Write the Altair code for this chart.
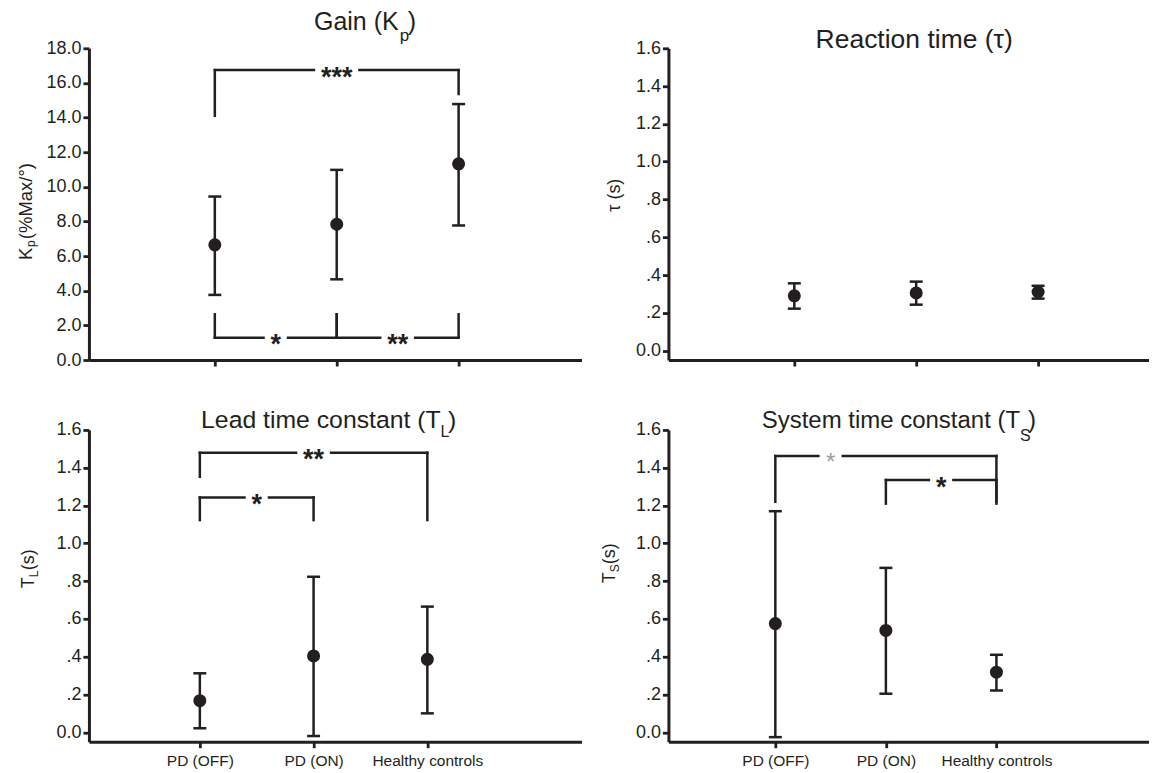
import altair as alt
import pandas as pd

FONT = "Liberation Sans"
INK = "#231f20"
FADED = "#9d9d9d"

groups = ["PD (OFF)", "PD (ON)", "Healthy controls"]
group_pos = [1, 2, 3]

# Gain (Kp), %Max/deg
kp_mean = [6.65, 7.84, 11.33]
kp_lower = [3.76, 4.66, 7.77]
kp_upper = [9.44, 10.98, 14.78]
# Reaction time (tau), s
tau_mean = [0.29, 0.305, 0.31]
tau_lower = [0.222, 0.243, 0.275]
tau_upper = [0.356, 0.365, 0.343]
# Lead time constant (TL), s
tl_mean = [0.167, 0.404, 0.386]
tl_lower = [0.021, -0.02, 0.10]
tl_upper = [0.312, 0.823, 0.665]
# System time constant (TS), s
ts_mean = [0.575, 0.539, 0.318]
ts_lower = [-0.026, 0.204, 0.221]
ts_upper = [1.17, 0.87, 0.41]

# significance brackets
kp_br_from = [1, 1, 2]
kp_br_to = [3, 2, 3]
kp_br_level = [16.74, 1.29, 1.29]
kp_br_from_end = [14.1, 2.64, 2.64]
kp_br_to_end = [15.36, 2.64, 2.64]
kp_br_label = ["***", "*", "**"]
kp_br_label_at = [2.0, 1.5, 2.5]
kp_br_faded = [False, False, False]

tau_br_from, tau_br_to, tau_br_level = [], [], []
tau_br_from_end, tau_br_to_end = [], []
tau_br_label, tau_br_label_at, tau_br_faded = [], [], []

tl_br_from = [1, 1]
tl_br_to = [3, 2]
tl_br_level = [1.479, 1.243]
tl_br_from_end = [1.352, 1.123]
tl_br_to_end = [1.123, 1.123]
tl_br_label = ["**", "*"]
tl_br_label_at = [2.0, 1.5]
tl_br_faded = [False, False]

ts_br_from = [1, 2]
ts_br_to = [3, 3]
ts_br_level = [1.462, 1.335]
ts_br_from_end = [1.22, 1.21]
ts_br_to_end = [1.22, 1.21]
ts_br_label = ["*", "*"]
ts_br_label_at = [1.5, 2.5]
ts_br_faded = [True, False]

kp_ticks = [0, 2, 4, 6, 8, 10, 12, 14, 16, 18]
s_ticks = [0, 0.2, 0.4, 0.6, 0.8, 1.0, 1.2, 1.4, 1.6]

X_LABEL_EXPR = " : ".join(
    f"datum.value == {p} ? '{g}'" for p, g in zip(group_pos, groups)
) + " : ''"
KP_LABEL_EXPR = "format(datum.value, '.1f')"
S_LABEL_EXPR = ("datum.value == 0 ? '0.0' : (datum.value < 1 ? "
                "replace(format(datum.value, '.1f'), '0.', '.') : format(datum.value, '.1f'))")

PANEL_H = 312
STAR_SIZE = 27
STAR_PAD = 7

AXIS_STYLE = dict(
    title=None, grid=False, domainColor=INK, domainWidth=3,
    tickColor=INK, tickWidth=2.8, tickSize=6,
    labelColor=INK, labelFont=FONT, labelFlush=False, labelOverlap=False,
)


def make_panel(mean, lower, upper, ydom, yticks, ylabel_expr, xdom, width,
               br, title_parts, ytitle_anchor, ytitle_parts, show_labels):
    df = pd.DataFrame({"pos": group_pos, "group": groups, "mean": mean,
                       "lower": lower, "upper": upper})
    xscale = alt.Scale(domain=xdom, nice=False, zero=False)
    yscale = alt.Scale(domain=ydom, nice=False, zero=False)
    xaxis = alt.Axis(values=group_pos, labelExpr=X_LABEL_EXPR, labels=show_labels,
                     labelFontSize=15.5, labelPadding=6, **AXIS_STYLE)
    yaxis = alt.Axis(values=yticks, labelExpr=ylabel_expr, labelFontSize=18,
                     labelPadding=2, **AXIS_STYLE)

    def X(f):
        return alt.X(f"{f}:Q", scale=xscale, axis=xaxis)

    def Y(f):
        return alt.Y(f"{f}:Q", scale=yscale, axis=yaxis)

    base = alt.Chart(df)
    layers = [
        base.mark_rule(color=INK, strokeWidth=2.5).encode(x=X("pos"), y=Y("lower"), y2="upper"),
        base.mark_tick(color=INK, orient="horizontal", size=13, thickness=2.5, opacity=1).encode(x=X("pos"), y=Y("lower")),
        base.mark_tick(color=INK, orient="horizontal", size=13, thickness=2.5, opacity=1).encode(x=X("pos"), y=Y("upper")),
        base.mark_point(filled=True, shape="circle", size=170, color=INK, opacity=1).encode(x=X("pos"), y=Y("mean")),
    ]

    ppu = width / (xdom[1] - xdom[0])
    segs, labs = [], []
    for a, b, lvl, ea, eb, lab, at, faded in zip(*br):
        g = (len(lab) * 0.389 * STAR_SIZE / 2 + STAR_PAD) / ppu
        segs += [dict(x=a, x2=at - g, y=lvl, y2=lvl),
                 dict(x=at + g, x2=b, y=lvl, y2=lvl),
                 dict(x=a, x2=a, y=lvl, y2=ea),
                 dict(x=b, x2=b, y=lvl, y2=eb)]
        labs.append(dict(x=at, y=lvl, t=lab, faded=faded))
    if segs:
        sdf = pd.DataFrame(segs)
        layers.append(alt.Chart(sdf).mark_rule(color=INK, strokeWidth=2.5, strokeCap="square")
                      .encode(x=X("x"), x2="x2", y=Y("y"), y2="y2"))
        ldf = pd.DataFrame(labs)
        dark = ldf[~ldf["faded"]].drop(columns="faded")
        light = ldf[ldf["faded"]].drop(columns="faded")
        if len(dark):
            layers.append(alt.Chart(dark).mark_text(font=FONT, fontSize=STAR_SIZE, fontWeight="bold",
                                                    color=INK, baseline="alphabetic",
                                                    dy=0.58 * STAR_SIZE)
                          .encode(x=X("x"), y=Y("y"), text="t:N"))
        if len(light):
            layers.append(alt.Chart(light).mark_text(font=FONT, fontSize=STAR_SIZE - 3, fontWeight="normal",
                                                     color=FADED, baseline="alphabetic",
                                                     dy=0.58 * (STAR_SIZE - 3))
                          .encode(x=X("x"), y=Y("y"), text="t:N"))

    for text, px, py, align, fs in title_parts:
        layers.append(alt.Chart(pd.DataFrame({"t": [text]}))
                      .mark_text(font=FONT, fontSize=fs, color=INK, align=align, baseline="alphabetic")
                      .encode(text="t:N", x=alt.value(px), y=alt.value(py)))

    ax, ay, aalign = ytitle_anchor
    for text, fs, dx, dy in ytitle_parts:
        layers.append(alt.Chart(pd.DataFrame({"t": [text]}))
                      .mark_text(font=FONT, fontSize=fs, color=INK, align=aalign, baseline="alphabetic",
                                 angle=270, dx=dx, dy=dy)
                      .encode(text="t:N", x=alt.value(ax), y=alt.value(ay)))

    return alt.layer(*layers).properties(width=width, height=PANEL_H)


W_LEFT = 493
W_RIGHT = 481

p1 = make_panel(
    kp_mean, kp_lower, kp_upper, [0, 18], kp_ticks, KP_LABEL_EXPR,
    [-0.0328, -0.0328 + W_LEFT / 122.0], W_LEFT,
    (kp_br_from, kp_br_to, kp_br_level, kp_br_from_end, kp_br_to_end,
     kp_br_label, kp_br_label_at, kp_br_faded),
    [("Gain (K", 310, -18, "right", 25), ("p", 311, -7.5, "left", 17), (")", 319, -18, "left", 25)],
    (-57, 212, "left"),
    [("K", 18.5, 0, 0), ("p", 12, 13, 3.5), ("(%Max/°)", 18.5, 21, 0)],
    False,
)
p2 = make_panel(
    tau_mean, tau_lower, tau_upper, [-0.05, 1.6], s_ticks, S_LABEL_EXPR,
    [-0.0328, -0.0328 + W_RIGHT / 122.0], W_RIGHT,
    (tau_br_from, tau_br_to, tau_br_level, tau_br_from_end, tau_br_to_end,
     tau_br_label, tau_br_label_at, tau_br_faded),
    [("Reaction time (τ)", 246, 0, "center", 26.5)],
    (-48, 147, "center"),
    [("τ (s)", 18, 0, 0)],
    False,
)
p3 = make_panel(
    tl_mean, tl_lower, tl_upper, [-0.05, 1.6], s_ticks, S_LABEL_EXPR,
    [0.025, 0.025 + W_LEFT / 113.85], W_LEFT,
    (tl_br_from, tl_br_to, tl_br_level, tl_br_from_end, tl_br_to_end,
     tl_br_label, tl_br_label_at, tl_br_faded),
    [("Lead time constant (T", 352, -1.7, "right", 24.8), ("L", 352, 7.3, "left", 16),
     (")", 359.5, -1.7, "left", 24.8)],
    (-54.5, 158.3, "left"),
    [("T", 18, 0, 0), ("L", 12, 11, 4), ("(s)", 18, 18, 0)],
    True,
)
p4 = make_panel(
    ts_mean, ts_lower, ts_upper, [-0.05, 1.6], s_ticks, S_LABEL_EXPR,
    [0.033, 0.033 + W_RIGHT / 110.65], W_RIGHT,
    (ts_br_from, ts_br_to, ts_br_level, ts_br_from_end, ts_br_to_end,
     ts_br_label, ts_br_label_at, ts_br_faded),
    [("System time constant (T", 352, -1.7, "right", 24), ("S", 352, 11, "left", 16),
     (")", 360, -1.7, "left", 24)],
    (-53, 153.3, "left"),
    [("T", 18, 0, 0), ("S", 12, 11, 4), ("(s)", 18, 19, 0)],
    True,
)

chart = (
    alt.concat(p1, p2, p3, p4, columns=2, spacing={"row": 70, "column": 87}, bounds="flush")
    .properties(padding={"left": 9, "top": 2, "right": 0, "bottom": 0})
    .configure_view(stroke=None)
)

chart.save("out.html", embed_options={"renderer": "svg", "actions": False})
